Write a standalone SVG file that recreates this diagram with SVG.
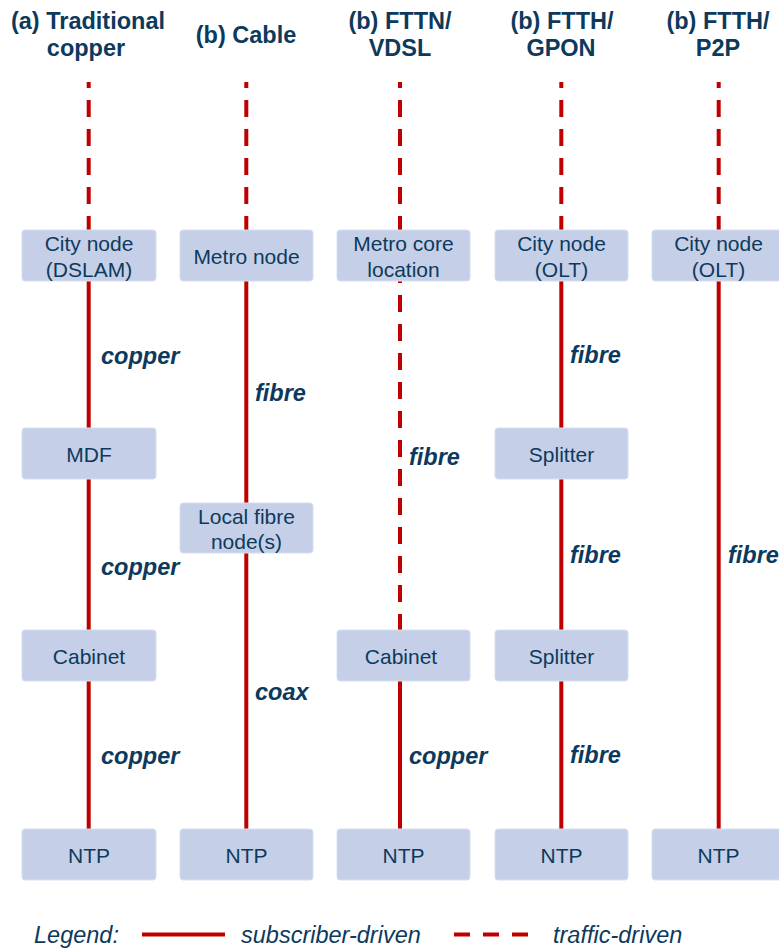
<svg xmlns="http://www.w3.org/2000/svg" width="779" height="949" viewBox="0 0 779 949">
<style>
.t{font-family:"Liberation Sans",Arial,sans-serif;fill:#0D3A5C}
.h{font-size:23.5px;font-weight:bold;text-anchor:middle}
.b{font-size:21px;text-anchor:middle}
.l{font-size:23.5px;font-weight:bold;font-style:italic}
.g{font-size:23.5px;font-style:italic}
.box{fill:#C5D0E8;stroke:#D6DEF0;stroke-width:1}
.s{stroke:#C00000;stroke-width:4;fill:none}
.d{stroke:#C00000;stroke-width:4;fill:none;stroke-dasharray:17 12}
</style>
<rect width="779" height="949" fill="#FFFFFF"/>
<g id="titles">
<text class="t h" x="88" y="29">(a) Traditional</text>
<text class="t h" x="86" y="56">copper</text>
<text class="t h" x="246" y="43">(b) Cable</text>
<text class="t h" x="400" y="29">(b) FTTN/</text>
<text class="t h" x="400" y="56">VDSL</text>
<text class="t h" x="562" y="29">(b) FTTH/</text>
<text class="t h" x="561" y="56">GPON</text>
<text class="t h" x="718" y="29">(b) FTTH/</text>
<text class="t h" x="718" y="56">P2P</text>
</g>
<g id="connectors">
<path class="d" d="M88.7 82V230" stroke-dashoffset="11"/>
<path class="s" d="M88.7 230V829"/>
<path class="d" d="M246.3 82V230" stroke-dashoffset="11"/>
<path class="s" d="M246.3 230V829"/>
<path class="d" d="M400 82V230" stroke-dashoffset="11"/>
<path class="d" d="M400 281V630" stroke-dashoffset="15"/>
<path class="s" d="M400 630V829"/>
<path class="d" d="M561.3 82V230" stroke-dashoffset="11"/>
<path class="s" d="M561.3 230V829"/>
<path class="d" d="M718.7 82V230" stroke-dashoffset="11"/>
<path class="s" d="M718.7 230V829"/>
</g>
<g id="labels">
<text class="t l" x="101" y="364">copper</text>
<text class="t l" x="101" y="575">copper</text>
<text class="t l" x="101" y="764">copper</text>
<text class="t l" x="255" y="401">fibre</text>
<text class="t l" x="255" y="700">coax</text>
<text class="t l" x="409" y="465">fibre</text>
<text class="t l" x="409" y="764">copper</text>
<text class="t l" x="570" y="363">fibre</text>
<text class="t l" x="570" y="563">fibre</text>
<text class="t l" x="570" y="763">fibre</text>
<text class="t l" x="728" y="563">fibre</text>
</g>
<g id="city-dslam"><rect class="box" x="22" y="230" width="134" height="51" rx="3"/><text class="t b" x="89" y="251">City node</text><text class="t b" x="89" y="277">(DSLAM)</text></g>
<g id="mdf"><rect class="box" x="22" y="428" width="134" height="51" rx="3"/><text class="t b" x="89" y="462">MDF</text></g>
<g id="cabinet-a"><rect class="box" x="22" y="630" width="134" height="51" rx="3"/><text class="t b" x="89" y="664">Cabinet</text></g>
<g id="ntp-a"><rect class="box" x="22" y="829" width="134" height="51" rx="3"/><text class="t b" x="89" y="863">NTP</text></g>
<g id="metro-node"><rect class="box" x="180" y="230" width="133" height="51" rx="3"/><text class="t b" x="246.5" y="264">Metro node</text></g>
<g id="local-fibre"><rect class="box" x="180" y="503" width="133" height="50" rx="3"/><text class="t b" x="246.5" y="524">Local fibre</text><text class="t b" x="246.5" y="549">node(s)</text></g>
<g id="ntp-b"><rect class="box" x="180" y="829" width="133" height="51" rx="3"/><text class="t b" x="246.5" y="863">NTP</text></g>
<g id="metro-core"><rect class="box" x="337" y="230" width="133" height="51" rx="3"/><text class="t b" x="403.5" y="251">Metro core</text><text class="t b" x="403.5" y="277">location</text></g>
<g id="cabinet-c"><rect class="box" x="337" y="630" width="133" height="51" rx="3"/><text class="t b" x="401" y="664">Cabinet</text></g>
<g id="ntp-c"><rect class="box" x="337" y="829" width="133" height="51" rx="3"/><text class="t b" x="403.5" y="863">NTP</text></g>
<g id="city-olt-d"><rect class="box" x="495" y="230" width="133" height="51" rx="3"/><text class="t b" x="561.5" y="251">City node</text><text class="t b" x="561.5" y="277">(OLT)</text></g>
<g id="splitter-1"><rect class="box" x="495" y="428" width="133" height="51" rx="3"/><text class="t b" x="561.5" y="462">Splitter</text></g>
<g id="splitter-2"><rect class="box" x="495" y="630" width="133" height="51" rx="3"/><text class="t b" x="561.5" y="664">Splitter</text></g>
<g id="ntp-d"><rect class="box" x="495" y="829" width="133" height="51" rx="3"/><text class="t b" x="561.5" y="863">NTP</text></g>
<g id="city-olt-e"><rect class="box" x="652" y="230" width="133" height="51" rx="3"/><text class="t b" x="718.5" y="251">City node</text><text class="t b" x="718.5" y="277">(OLT)</text></g>
<g id="ntp-e"><rect class="box" x="652" y="829" width="133" height="51" rx="3"/><text class="t b" x="718.5" y="863">NTP</text></g>
<g id="legend">
<text class="t g" x="34" y="943">Legend:</text>
<path class="s" d="M142 934.5H225" stroke-width="4.3"/>
<text class="t g" x="241" y="943">subscriber-driven</text>
<path class="s" d="M454 934.5H528" stroke-width="4.3" stroke-dasharray="16 13"/>
<text class="t g" x="553" y="943">traffic-driven</text>
</g>
</svg>
